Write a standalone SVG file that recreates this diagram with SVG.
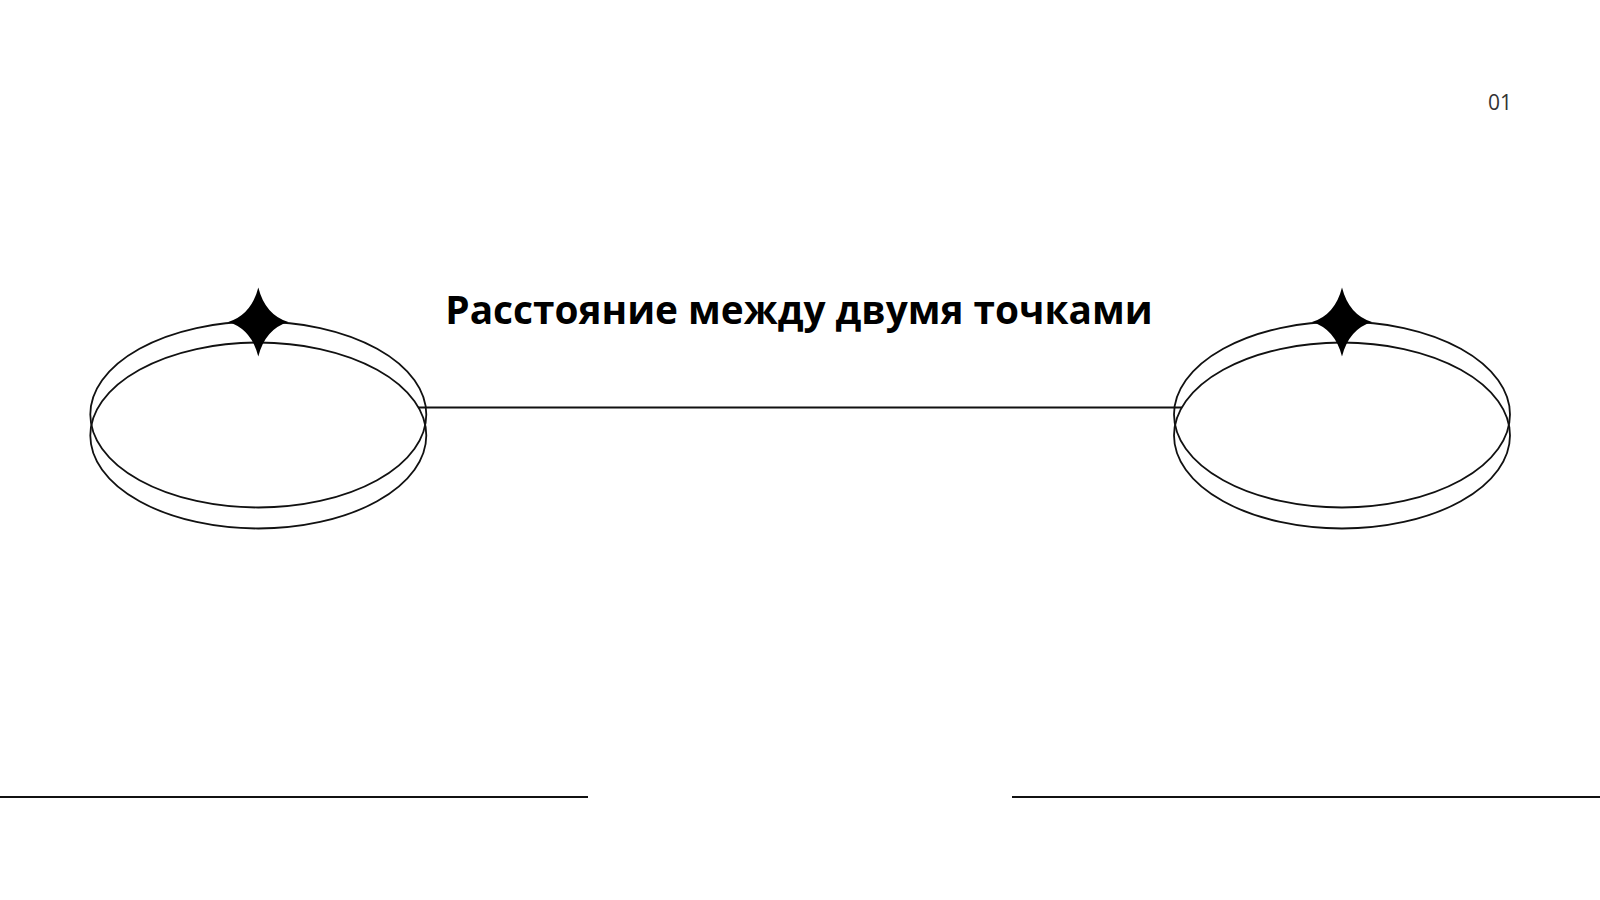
<svg xmlns="http://www.w3.org/2000/svg" width="1600" height="900" viewBox="0 0 1600 900">
  <style>
    .ring { fill: none; stroke: #111; stroke-width: 1.8; }
    .conn { fill: none; stroke: #111; stroke-width: 1.8; }
    .star { fill: #000; }
    .title { font-family: "Open Sans", "Noto Sans", "DejaVu Sans", sans-serif; font-weight: 700; font-size: 38.8px; fill: #000; }
    .num { font-family: "Open Sans", "Noto Sans", sans-serif; font-size: 21px; fill: #333; }
  </style>
  <defs>
    <path id="star4" d="M 0 -34.5 Q 7 -7 30 0 Q 7 7 0 34.5 Q -7 7 -30 0 Q -7 -7 0 -34.5 Z"/>
  </defs>
  <rect width="1600" height="900" fill="#fff"/>

  <g id="connectors">
    <line class="conn" x1="418" y1="407.5" x2="1182" y2="407.5"/>
  </g>

  <g id="point-left">
    <ellipse class="ring" cx="258.3" cy="414.5" rx="168" ry="93"/>
    <ellipse class="ring" cx="258.3" cy="435.5" rx="168" ry="93"/>
    <use href="#star4" class="star" x="258.3" y="322"/>
  </g>

  <g id="point-right">
    <ellipse class="ring" cx="1342" cy="414.5" rx="168" ry="93"/>
    <ellipse class="ring" cx="1342" cy="435.5" rx="168" ry="93"/>
    <use href="#star4" class="star" x="1342" y="322"/>
  </g>

  <g id="title">
    <text class="title" x="799" y="323.5" text-anchor="middle">Расстояние между двумя точками</text>
  </g>

  <g id="page-number">
    <text class="num" x="1512" y="110" text-anchor="end">01</text>
  </g>

  <g id="footer-lines">
    <line class="conn" x1="0" y1="797" x2="588" y2="797"/>
    <line class="conn" x1="1012" y1="797" x2="1600" y2="797"/>
  </g>
</svg>
